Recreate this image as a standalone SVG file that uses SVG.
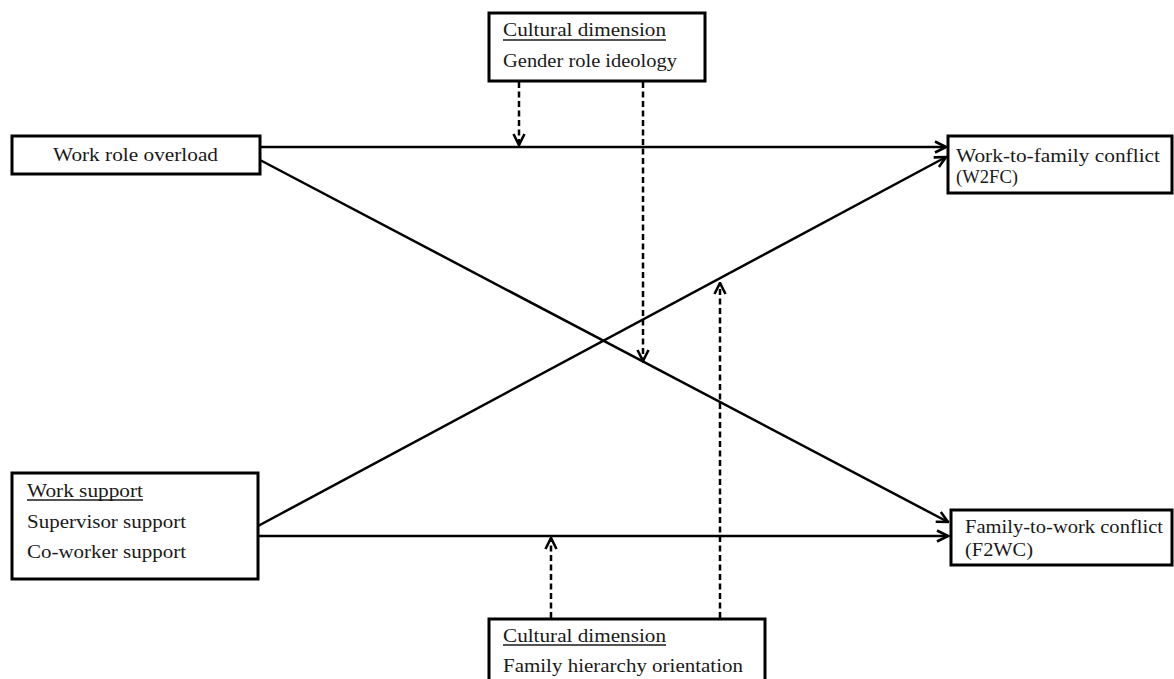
<svg xmlns="http://www.w3.org/2000/svg" width="1174" height="679" viewBox="0 0 1174 679">
<style>
.box{fill:#fff;stroke:#000;stroke-width:3}
.t{font-family:"Liberation Serif","Times New Roman",serif;font-size:19px;fill:#1a1a1a}
.ul{stroke:#1a1a1a;stroke-width:1.3}
.c{fill:none;stroke:#000;stroke-width:2.5}
.d{fill:none;stroke:#000;stroke-width:2.5;stroke-dasharray:6 3.5}
</style>
<defs>
<marker id="ah" viewBox="0 0 14 14" refX="12.5" refY="7" markerWidth="14" markerHeight="14" markerUnits="userSpaceOnUse" orient="auto">
<path d="M1.5,1.5 L12.5,7 L1.5,12.5" fill="none" stroke="#000" stroke-width="2.6"/>
</marker>
</defs>
<rect width="1174" height="679" fill="#fff"/>
<g id="connectors">
<line class="c" x1="260" y1="147" x2="946" y2="147" marker-end="url(#ah)"/>
<line class="c" x1="260" y1="160" x2="948" y2="522" marker-end="url(#ah)"/>
<line class="c" x1="258" y1="526" x2="946" y2="157" marker-end="url(#ah)"/>
<line class="c" x1="258" y1="536" x2="948" y2="536" marker-end="url(#ah)"/>
<line class="d" x1="519" y1="82" x2="519" y2="145" marker-end="url(#ah)"/>
<line class="d" x1="643" y1="82" x2="643" y2="361" marker-end="url(#ah)"/>
<line class="d" x1="551" y1="618" x2="551" y2="538" marker-end="url(#ah)"/>
<line class="d" x1="720" y1="618" x2="720" y2="283" marker-end="url(#ah)"/>
</g>
<g id="gender-role">
<rect class="box" x="489" y="13" width="216" height="68"/>
<text class="t" x="503" y="36" textLength="163" lengthAdjust="spacingAndGlyphs">Cultural dimension</text>
<line class="ul" x1="503" y1="40" x2="666" y2="40"/>
<text class="t" x="503" y="67" textLength="174" lengthAdjust="spacingAndGlyphs">Gender role ideology</text>
</g>
<g id="work-role-overload">
<rect class="box" x="12" y="136" width="248" height="38"/>
<text class="t" x="53" y="161" textLength="165" lengthAdjust="spacingAndGlyphs">Work role overload</text>
</g>
<g id="work-support">
<rect class="box" x="12" y="473" width="246" height="106"/>
<text class="t" x="27" y="497" textLength="116" lengthAdjust="spacingAndGlyphs">Work support</text>
<line class="ul" x1="27" y1="500" x2="143" y2="500"/>
<text class="t" x="27" y="528" textLength="159" lengthAdjust="spacingAndGlyphs">Supervisor support</text>
<text class="t" x="27" y="558" textLength="159" lengthAdjust="spacingAndGlyphs">Co-worker support</text>
</g>
<g id="w2fc">
<rect class="box" x="948" y="136" width="224" height="57"/>
<text class="t" x="956" y="162" textLength="204" lengthAdjust="spacingAndGlyphs">Work-to-family conflict</text>
<text class="t" x="956" y="183" textLength="62" lengthAdjust="spacingAndGlyphs">(W2FC)</text>
</g>
<g id="f2wc">
<rect class="box" x="951" y="510" width="221" height="55"/>
<text class="t" x="965" y="533" textLength="198" lengthAdjust="spacingAndGlyphs">Family-to-work conflict</text>
<text class="t" x="965" y="556" textLength="68" lengthAdjust="spacingAndGlyphs">(F2WC)</text>
</g>
<g id="family-hierarchy">
<rect class="box" x="489" y="619" width="276" height="70"/>
<text class="t" x="503" y="642" textLength="163" lengthAdjust="spacingAndGlyphs">Cultural dimension</text>
<line class="ul" x1="503" y1="645" x2="666" y2="645"/>
<text class="t" x="503" y="672" textLength="240" lengthAdjust="spacingAndGlyphs">Family hierarchy orientation</text>
</g>
</svg>
